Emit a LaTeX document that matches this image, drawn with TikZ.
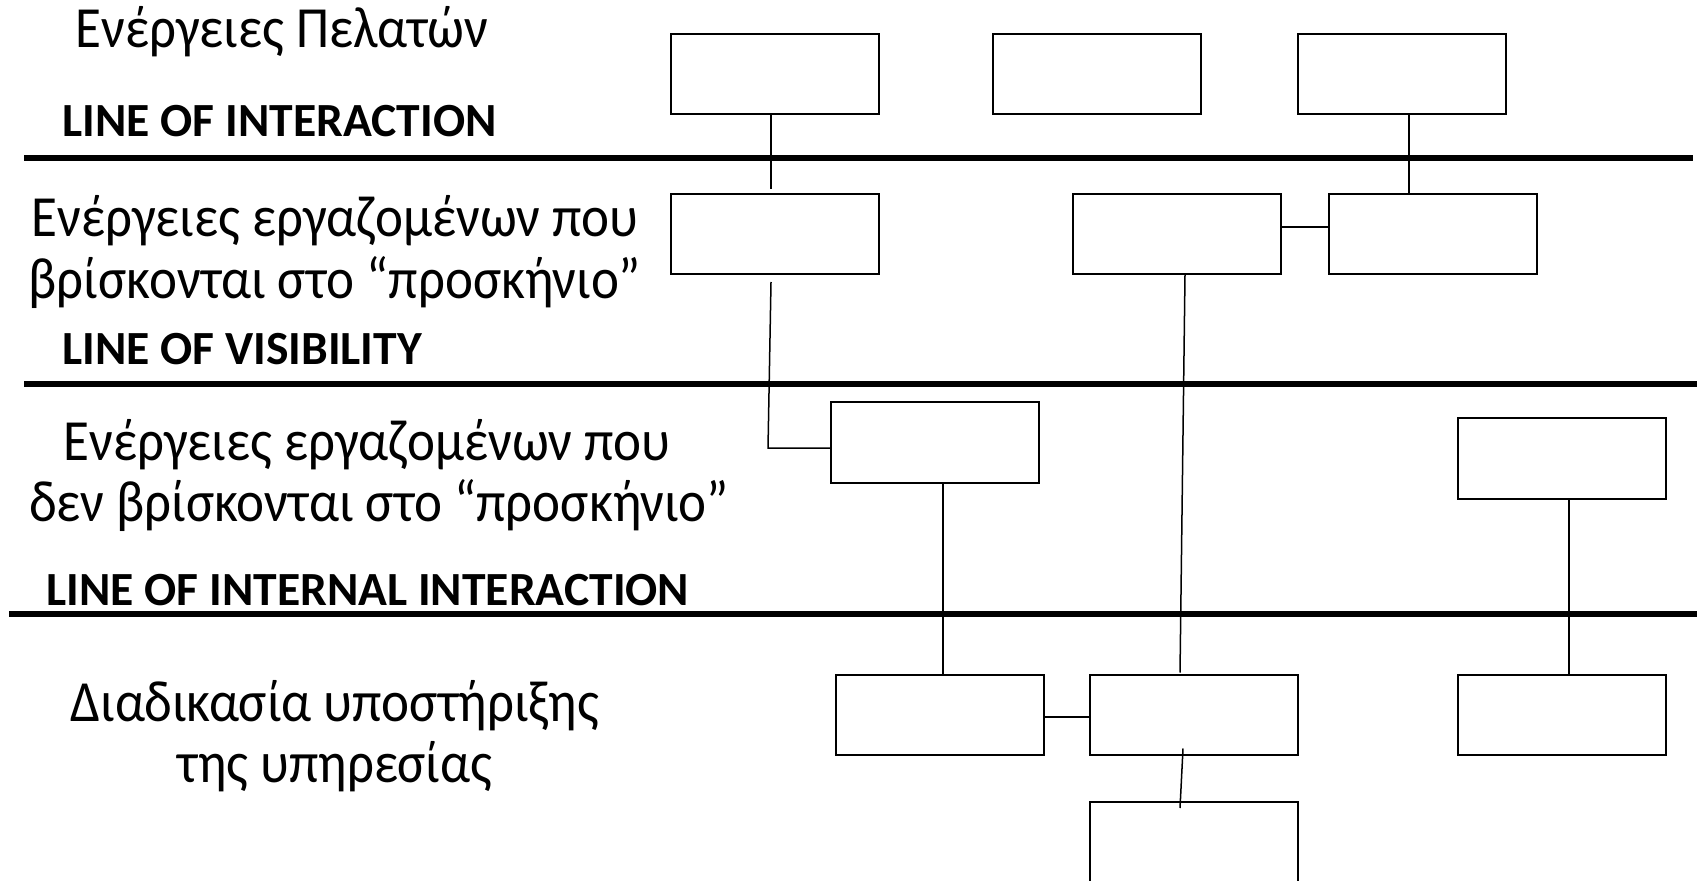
\documentclass[tikz,border=0pt]{standalone}
\usepackage{fontspec}
\setmainfont{Carlito}
\newcommand{\tallx}[1]{\scalebox{1}[1.1]{#1}}
\begin{document}
\begin{tikzpicture}[x=0.5pt,y=-0.5pt,
  box/.style={draw,line width=1pt,minimum width=104pt,minimum height=40pt,inner sep=0pt,outer sep=0pt},
  conn/.style={line width=0.75pt},
  sep/.style={line width=2.6pt},
  lbl/.style={inner sep=0pt,anchor=base,font=\fontsize{26.5}{30}\selectfont},
  linelbl/.style={inner sep=0pt,anchor=base west,font=\fontsize{23.8}{28}\selectfont\bfseries}]
\useasboundingbox (0,0) rectangle (1700,881);
\begin{scope}
\clip (0,0) rectangle (1700,881);
% boxes
\node[box] (A1) at (774.5,74.5) {};
\node[box] (A2) at (1097,74.5) {};
\node[box] (A3) at (1401.5,74.5) {};
\node[box] (B1) at (774.5,234.5) {};
\node[box] (B2) at (1176.5,234.5) {};
\node[box] (B3) at (1433,234.5) {};
\node[box] (C1) at (934.5,442.5) {};
\node[box] (C3) at (1561.5,458.5) {};
\node[box] (D1) at (939.5,714.5) {};
\node[box] (D2) at (1193.5,714.5) {};
\node[box] (D3) at (1561.5,714.5) {};
\node[box] (E2) at (1193.5,842) {};
% connectors
\coordinate (k1) at (771,189);
\draw[conn] ([xshift=-1.75pt]A1.south) -- (k1);
\coordinate (k2) at (771,282);
\coordinate (k3) at (768,448);
\draw[conn] (k2) -- (k3) -- (k3 -| C1.west);
\draw[conn] ([xshift=4.25pt]C1.south) -- ([xshift=1.75pt]D1.north);
\draw[conn] ([yshift=-1.25pt]D1.east) -- ([yshift=-1.25pt]D2.west);
\draw[conn] ([xshift=4.25pt]B2.south) -- ([xshift=-6.75pt,yshift=1pt]D2.north);
\draw[conn] ([yshift=3.75pt]B2.east) -- ([yshift=3.75pt]B3.west);
\draw[conn] ([xshift=3.75pt]A3.south) -- ([xshift=-12pt]B3.north);
\draw[conn] ([xshift=3.75pt]C3.south) -- ([xshift=3.75pt]D3.north);
\draw[conn] ([xshift=-5.25pt,yshift=3pt]D2.south) -- ([xshift=-6.75pt,yshift=-3pt]E2.north);
% separator lines
\coordinate (L1a) at (24,158); \coordinate (L1b) at (1693,158);
\coordinate (L2a) at (24,384); \coordinate (L2b) at (1697,384);
\coordinate (L3a) at (9,614);  \coordinate (L3b) at (1697,614);
\draw[sep] (L1a) -- (L1b);
\draw[sep] (L2a) -- (L2b);
\draw[sep] (L3a) -- (L3b);
\end{scope}
% labels
\node[lbl] (t1) at (282,48) {\tallx{Ενέργειες Πελατών}};
\node[linelbl] (l1) at (62,137) {LINE OF INTERACTION};
\node[lbl] (t2a) at (335,237) {\tallx{Ενέργειες εργαζομένων που}};
\node[lbl] (t2b) at (335,299) {\tallx{βρίσκονται στο “προσκήνιο”}};
\node[linelbl] (l2) at (62,365) {LINE OF VISIBILITY};
\node[lbl] (t3a) at (367,460) {\tallx{Ενέργειες εργαζομένων που}};
\node[lbl] (t3b) at (379,521) {\tallx{δεν βρίσκονται στο “προσκήνιο”}};
\node[linelbl] (l3) at (46,605) {LINE OF INTERNAL INTERACTION};
\node[lbl] (t4a) at (335,721) {\tallx{Διαδικασία υποστήριξης}};
\node[lbl] (t4b) at (335,782) {\tallx{της υπηρεσίας}};
\end{tikzpicture}
\end{document}
